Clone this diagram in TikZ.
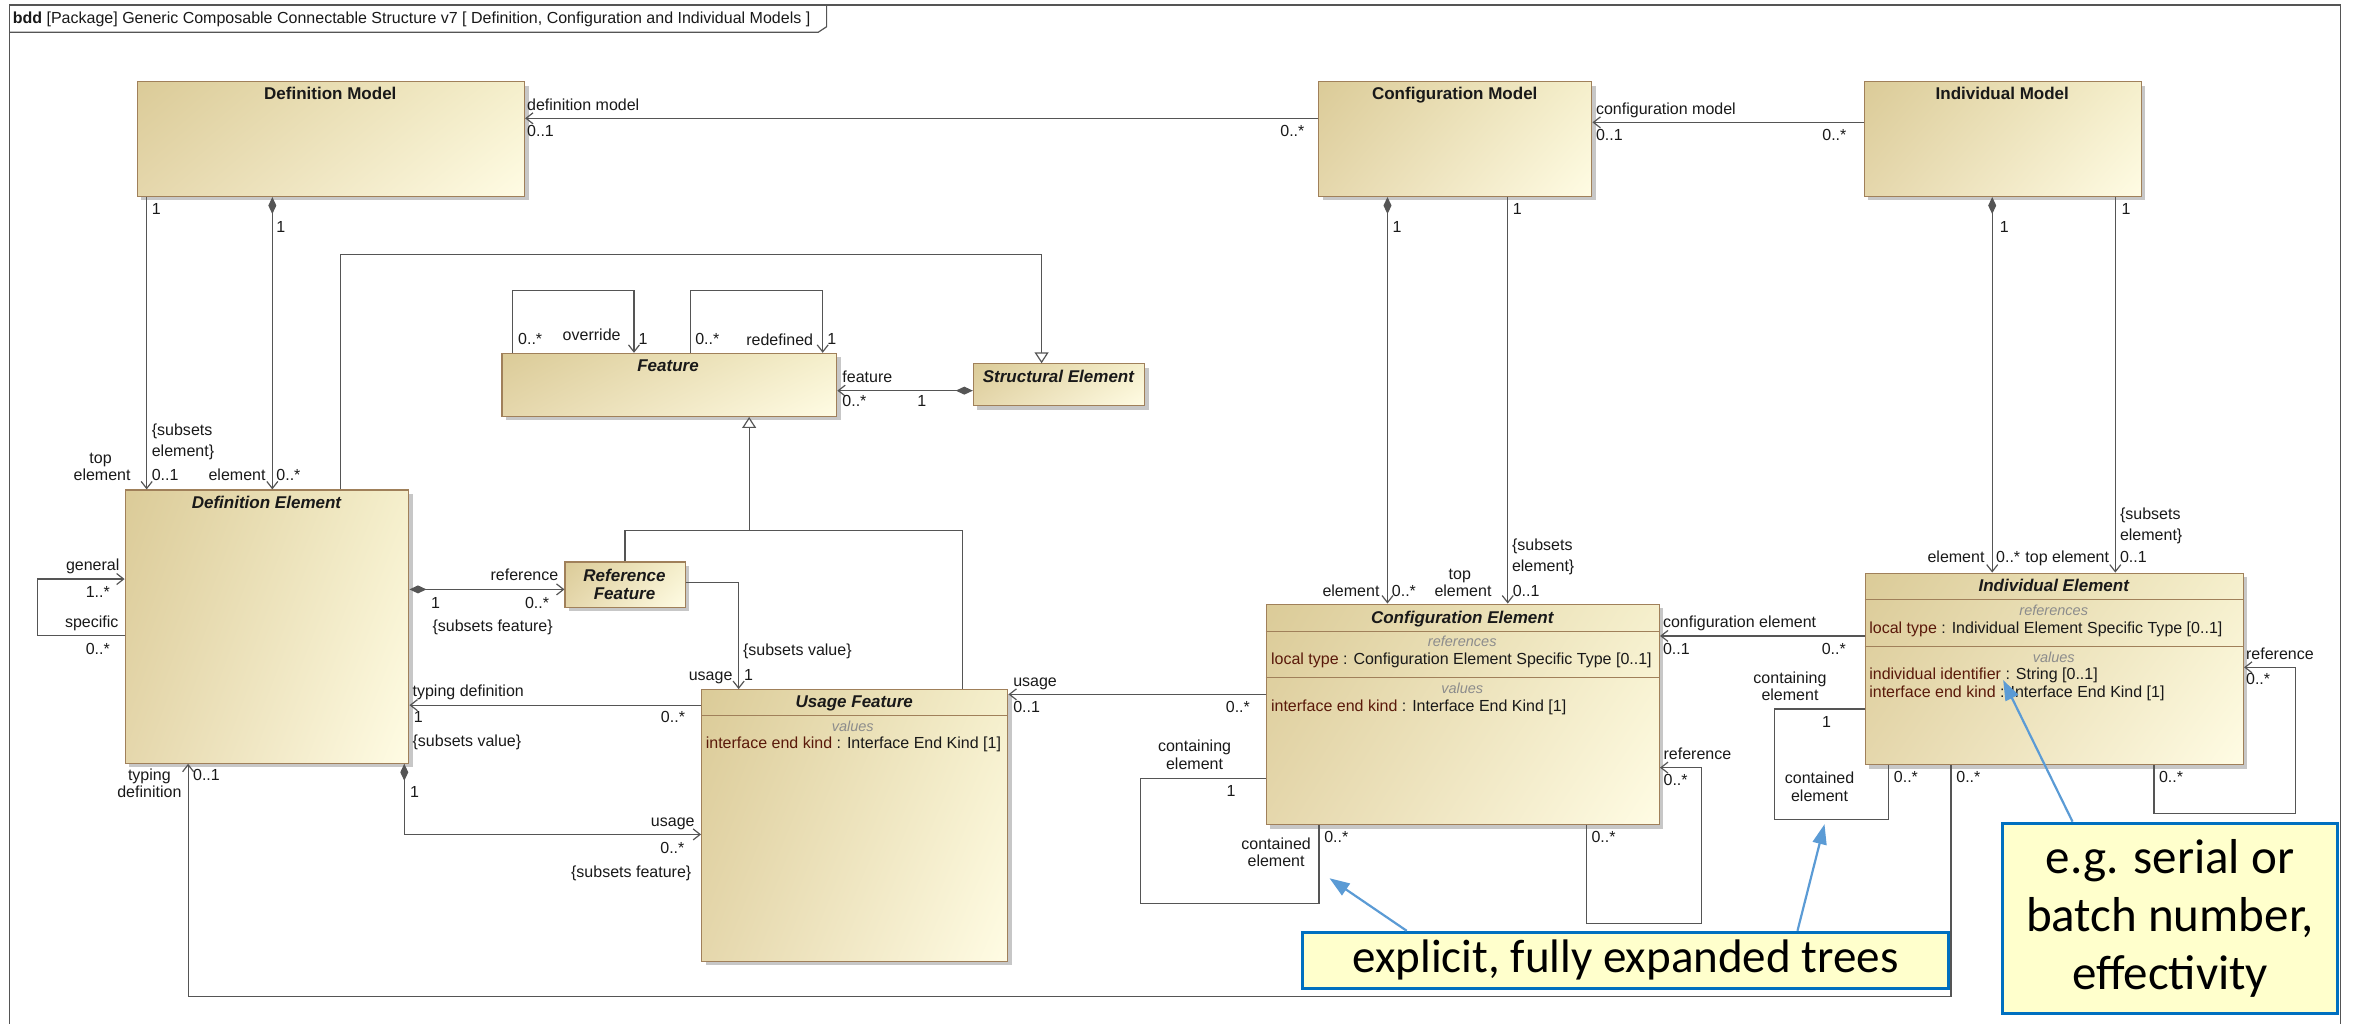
\documentclass[tikz,border=0pt]{standalone}
\usepackage{fontspec}
\setmainfont{Liberation Sans}
\newfontfamily\calfont{Carlito}
\usetikzlibrary{arrows.meta,shadows,shadings}
\definecolor{tanA}{RGB}{219,203,152}
\definecolor{tanL}{RGB}{229,215,172}
\definecolor{tanU}{RGB}{245,239,204}
\definecolor{tanB}{RGB}{255,252,228}
\definecolor{bord}{RGB}{160,128,90}
\definecolor{ln}{RGB}{85,85,85}
\definecolor{txt}{RGB}{25,25,25}
\definecolor{attr}{RGB}{90,25,10}
\definecolor{cmpc}{RGB}{140,140,140}
\definecolor{cfill}{RGB}{255,255,204}
\definecolor{cbord}{RGB}{0,112,192}
\definecolor{carrow}{RGB}{91,155,213}
\newcommand\Lbl[4]{\node[lbl,anchor=#1] (#2) at (#3) {#4};}
\newcommand\mkbox[5]{\node[umlbox,minimum width={(#4-#2)*1.5pt},minimum height={(#5-#3)*1.5pt}] (#1) at (#2,#3) {};}
\begin{document}
\begin{tikzpicture}[x=1.5pt,y=-1.5pt,
 umlbox/.style={draw=bord,line width=1.1pt,upper left=tanA,lower left=tanL,upper right=tanU,lower right=tanB,
   drop shadow={shadow xshift=4pt,shadow yshift=-4pt,fill=black!22,opacity=1},inner sep=0pt,anchor=north west},
 lbl/.style={font=\fontsize{16}{18}\selectfont,text=txt,inner sep=0pt,text height=11.5pt,text depth=3pt},
 ttl/.style={font=\fontsize{17}{19}\selectfont\bfseries,text=txt,inner sep=0pt,text height=12.5pt,text depth=3pt},
 ttli/.style={ttl,font=\fontsize{17}{19}\selectfont\bfseries\itshape},
 cmpl/.style={font=\fontsize{14.5}{16}\selectfont\itshape,text=cmpc,inner sep=0pt,text height=10pt,text depth=3pt},
 conn/.style={draw=ln,line width=1.2pt},
 assoc/.style={conn,-{Straight Barb[length=7pt,width=11pt]}},
 comp/.style={conn,{Diamond[length=17pt,width=8pt]}-{Straight Barb[length=7pt,width=11pt]}},
 gen/.style={conn,-{Triangle[open,length=11pt,width=14pt,fill=white]}},
 divl/.style={draw=bord,line width=1.1pt},
 callout/.style={draw=cbord,line width=3pt,fill=cfill,inner sep=0pt,anchor=north west,text=black,align=center},
 carr/.style={draw=carrow,line width=2.2pt,-{Triangle[length=20pt,width=14pt]}},
 frm/.style={draw=ln,line width=1.2pt}
]
\useasboundingbox (0,0) rectangle (1568,682);
% frame
\draw[frm] (6.5,690) -- (6.5,3.3) -- (1559,3.3) -- (1559,690);
\draw[frm] (6.5,21.5) -- (545,21.5) -- (550.6,17.8) -- (550.6,3.3);
\node[anchor=base west,inner sep=0pt,font=\fontsize{16}{18}\selectfont,text=txt] (ttl) at (8.4,15.5)
 {\textbf{bdd} [Package] Generic Composable Connectable Structure v7 [ Definition, Configuration and Individual Models ]};

% boxes
\mkbox{dm}{91}{54}{349}{130.5}
\mkbox{cm}{878}{54}{1060}{130.5}
\mkbox{im}{1241.5}{54}{1426}{130.5}
\mkbox{feat}{334}{235}{557}{277}
\mkbox{se}{648}{242}{762}{270}
\mkbox{de}{83}{326}{272}{508}
\mkbox{rf}{376}{374}{456}{404}
\mkbox{uf}{467}{459}{671}{640}
\mkbox{ce}{843}{402}{1105}{549}
\mkbox{ie}{1242}{381.4}{1494}{509}

\node[ttl] (dmt) at (220,63.3) {Definition Model};
\node[ttl] (cmt) at (969,63.3) {Configuration Model};
\node[ttl] (imt) at (1333.7,63.3) {Individual Model};
\node[ttli] (ft) at (445,244.5) {Feature};
\node[ttli] (set) at (705,251.6) {Structural Element};
\node[ttli] (det) at (177.5,335.3) {Definition Element};
\node[ttli] (rft1) at (416,384) {Reference};
\node[ttli] (rft2) at (416,396.3) {Feature};
\node[ttli] (uft) at (569,467.9) {Usage Feature};
\node[ttli] (cet) at (974,411.9) {Configuration Element};
\node[ttli] (iet) at (1368,391) {Individual Element};

% compartments
\draw[divl] (uf.west |- 0,476.6) -- (uf.east |- 0,476.6);
\node[cmpl] (ufv) at (568,484.6) {values};
\node[lbl,anchor=west] (ufa) at (470,496) {{\color{attr}interface end kind} : Interface End Kind [1]};

\draw[divl] (ce.west |- 0,420.7) -- (ce.east |- 0,420.7);
\draw[divl] (ce.west |- 0,451.4) -- (ce.east |- 0,451.4);
\node[cmpl] (cer) at (974,428.3) {references};
\node[lbl,anchor=west] (cea) at (846.5,440) {{\color{attr}local type} : Configuration Element Specific Type [0..1]};
\node[cmpl] (cev) at (974,459.6) {values};
\node[lbl,anchor=west] (ceb) at (846.5,471) {{\color{attr}interface end kind} : Interface End Kind [1]};

\draw[divl] (ie.west |- 0,399.6) -- (ie.east |- 0,399.6);
\draw[divl] (ie.west |- 0,430.7) -- (ie.east |- 0,430.7);
\node[cmpl] (ier) at (1368,407.9) {references};
\node[lbl,anchor=west] (iea) at (1245,419) {{\color{attr}local type} : Individual Element Specific Type [0..1]};
\node[cmpl] (iev) at (1368,439) {values};
\node[lbl,anchor=west] (ieb) at (1245,450) {{\color{attr}individual identifier} : String [0..1]};
\node[lbl,anchor=west] (iec) at (1245,462) {{\color{attr}interface end kind} : Interface End Kind [1]};

% connectors
\draw[assoc] (cm.west |- 0,78.8) -- (dm.east |- 0,78.8);
\draw[assoc] (im.west |- 0,81.5) -- (cm.east |- 0,81.5);
\draw[assoc] (dm.south -| 97.7,0) -- (de.north -| 97.7,0);
\draw[comp] (dm.south -| 181.4,0) -- (de.north -| 181.4,0);
\draw[gen] (de.north -| 227,0) -- (227,169.3) -- (693.8,169.3) -- (se.north -| 693.8,0);
\draw[assoc] (feat.north -| 341.4,0) -- (341.4,193.4) -- (422.3,193.4) -- (feat.north -| 422.3,0);
\draw[assoc] (feat.north -| 460,0) -- (460,193.4) -- (548,193.4) -- (feat.north -| 548,0);
\draw[comp] (se.west |- 0,260.2) -- (feat.east |- 0,260.2);
\coordinate (gj) at (499,353.4);
\draw[gen] (gj) -- (feat.south -| gj);
\draw[conn] (rf.north -| 416.3,0) |- (gj) -| (uf.north -| 641,0);
\draw[assoc] (de.west |- 0,423.4) -- (24.9,423.4) -- (24.9,385.7) -- (de.west |- 0,385.7);
\draw[comp] (de.east |- 0,392.6) -- (rf.west |- 0,392.6);
\draw[assoc] (rf.east |- 0,388.2) -- (492,388.2) -- (uf.north -| 492,0);
\draw[assoc] (uf.west |- 0,469.7) -- (de.east |- 0,469.7);
\draw[comp] (de.south -| 269.3,0) -- (269.3,555.8) -- (uf.west |- 0,555.8);
\draw[assoc] (ie.south -| 1299.6,0) -- (1299.6,663.9) -- (125.3,663.9) -- (de.south -| 125.3,0);
\draw[comp] (cm.south -| 924.2,0) -- (ce.north -| 924.2,0);
\draw[assoc] (cm.south -| 1004.3,0) -- (ce.north -| 1004.3,0);
\draw[comp] (im.south -| 1327,0) -- (ie.north -| 1327,0);
\draw[assoc] (im.south -| 1409,0) -- (ie.north -| 1409,0);
\draw[assoc] (ie.west |- 0,423.6) -- (ce.east |- 0,423.6);
\draw[assoc] (ce.west |- 0,462.5) -- (uf.east |- 0,462.5);
\draw[conn] (ce.west |- 0,518.4) -- (759.8,518.4) -- (759.8,601.7) -- (878.6,601.7) -- (ce.south -| 878.6,0);
\draw[assoc] (ce.south -| 1057,0) -- (1057,615) -- (1133.5,615) -- (1133.5,511.3) -- (ce.east |- 0,511.3);
\draw[conn] (ie.west |- 0,472.2) -- (1182,472.2) -- (1182,545.8) -- (1258,545.8) -- (ie.south -| 1258,0);
\draw[assoc] (ie.south -| 1434.8,0) -- (1434.8,541.8) -- (1529,541.8) -- (1529,444.5) -- (ie.east |- 0,444.5);

% labels
\Lbl{west}{la1}{351,71}{definition model}
\Lbl{west}{la2}{351,88.4}{0..1}
\Lbl{east}{la3}{869,88.4}{0..*}
\Lbl{west}{lb1}{1063,73.7}{configuration model}
\Lbl{west}{lb2}{1063,91}{0..1}
\Lbl{east}{lb3}{1230,91}{0..*}
\Lbl{west}{lc1}{101,140}{1}
\Lbl{west}{lc2}{101,287}{\{subsets}
\Lbl{west}{lc3}{101,301}{element\}}
\Lbl{west}{lc4}{101,317.5}{0..1}
\Lbl{center}{lc5}{67,306}{top}
\Lbl{center}{lc6}{68,317.5}{element}
\Lbl{west}{lc7}{184,152}{1}
\Lbl{east}{lc8}{177,317.5}{element}
\Lbl{west}{lc9}{184,317.5}{0..*}
\Lbl{west}{ld1}{345,226.5}{0..*}
\Lbl{west}{ld2}{374.7,224.3}{override}
\Lbl{west}{ld3}{425.3,226.5}{1}
\Lbl{west}{ld4}{463,226.5}{0..*}
\Lbl{west}{ld5}{497,227}{redefined}
\Lbl{west}{ld6}{551,226.5}{1}
\Lbl{west}{le1}{561,252}{feature}
\Lbl{west}{le2}{561,268}{0..*}
\Lbl{west}{le3}{611,268}{1}
\Lbl{east}{lg1}{79.7,377.4}{general}
\Lbl{west}{lg2}{57,395}{1..*}
\Lbl{east}{lg3}{79,415}{specific}
\Lbl{west}{lg4}{57,433}{0..*}
\Lbl{east}{lh1}{372,384}{reference}
\Lbl{west}{lh2}{287,402.4}{1}
\Lbl{west}{lh3}{349.6,402.4}{0..*}
\Lbl{west}{lh4}{288,417.6}{\{subsets feature\}}
\Lbl{west}{li1}{494.8,433.9}{\{subsets value\}}
\Lbl{east}{li2}{488,450.7}{usage}
\Lbl{west}{li3}{495.5,450.7}{1}
\Lbl{west}{lj1}{274.7,461}{typing definition}
\Lbl{west}{lj2}{275.5,478.5}{1}
\Lbl{west}{lj3}{274.7,494.5}{\{subsets value\}}
\Lbl{east}{lj4}{456.4,478.7}{0..*}
\Lbl{west}{lk1}{273,528.5}{1}
\Lbl{east}{lk2}{462.8,548}{usage}
\Lbl{east}{lk3}{456,566}{0..*}
\Lbl{east}{lk4}{460.6,581.5}{\{subsets feature\}}
\Lbl{center}{ll1}{99.5,517.3}{typing}
\Lbl{center}{ll2}{99.5,528.4}{definition}
\Lbl{west}{ll3}{128.5,517.3}{0..1}
\Lbl{west}{ll4}{1303,518.4}{0..*}
\Lbl{west}{lm1}{927.5,152}{1}
\Lbl{east}{lm2}{919,394.6}{element}
\Lbl{west}{lm3}{927,394.6}{0..*}
\Lbl{west}{lm4}{1007.5,140.3}{1}
\Lbl{west}{lm5}{1007,364}{\{subsets}
\Lbl{west}{lm6}{1007,378}{element\}}
\Lbl{west}{lm7}{1007.5,394.6}{0..1}
\Lbl{center}{lm8}{972.4,383}{top}
\Lbl{center}{lm9}{974.5,394.6}{element}
\Lbl{west}{ln1}{1332,152}{1}
\Lbl{east}{ln2}{1322,372}{element}
\Lbl{west}{ln3}{1329.5,372}{0..*}
\Lbl{west}{ln4}{1413,140.3}{1}
\Lbl{west}{ln5}{1412,343}{\{subsets}
\Lbl{west}{ln6}{1412,357}{element\}}
\Lbl{east}{ln7}{1405,372}{top element}
\Lbl{west}{ln8}{1412,372}{0..1}
\Lbl{west}{lo1}{1107.6,415.2}{configuration element}
\Lbl{west}{lo2}{1107.6,433}{0..1}
\Lbl{east}{lo3}{1229.6,433}{0..*}
\Lbl{west}{lp1}{674.8,454.5}{usage}
\Lbl{west}{lp2}{674.8,472}{0..1}
\Lbl{east}{lp3}{832.7,471.8}{0..*}
\Lbl{center}{lq1}{795.7,498}{containing}
\Lbl{center}{lq2}{795.7,510}{element}
\Lbl{center}{lq3}{820,527.8}{1}
\Lbl{center}{lq4}{850,562.8}{contained}
\Lbl{center}{lq5}{850,574.4}{element}
\Lbl{west}{lq6}{882,558.4}{0..*}
\Lbl{west}{lr1}{1108,503}{reference}
\Lbl{west}{lr2}{1108,520.7}{0..*}
\Lbl{west}{lr3}{1060,558.4}{0..*}
\Lbl{center}{ls1}{1192.3,452.3}{containing}
\Lbl{center}{ls2}{1192.3,464}{element}
\Lbl{center}{ls3}{1216.7,481.8}{1}
\Lbl{center}{ls4}{1212,518.9}{contained}
\Lbl{center}{ls5}{1212,531}{element}
\Lbl{west}{ls6}{1261.4,518.4}{0..*}
\Lbl{west}{lt1}{1496,436.3}{reference}
\Lbl{west}{lt2}{1496,453.4}{0..*}
\Lbl{west}{lt3}{1438,518.4}{0..*}

% callouts
\node[callout,minimum width={(1297-866.6)*1.5pt},minimum height={(657.5-620)*1.5pt},
  font=\calfont\fontsize{47}{57}\selectfont] (cb1) at (866.6,620) {explicit, fully expanded trees};
\node[callout,minimum width={(1556-1333)*1.5pt},minimum height={(674-547.3)*1.5pt},
  font=\calfont\fontsize{49}{58}\selectfont] (cb2) at (1333,547.3) {e.g. serial or\\batch number,\\effectivity};
\coordinate (p1) at (885.6,585);
\coordinate (p2) at (1215.3,549);
\coordinate (p3) at (1334.3,453);
\draw[carr] (cb1.north -| 937,0) -- (p1);
\draw[carr] (cb1.north -| 1197.3,0) -- (p2);
\draw[carr] (cb2.north -| 1380.5,0) -- (p3);
\end{tikzpicture}
\end{document}
